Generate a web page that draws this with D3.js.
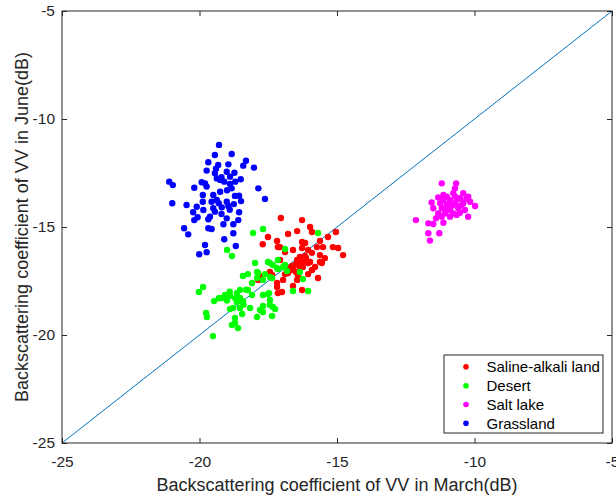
<!DOCTYPE html>
<html>
<head>
<meta charset="utf-8">
<script src="https://cdn.jsdelivr.net/npm/d3@7"></script>
<style>
  html, body { margin: 0; padding: 0; background: #fff; }
  svg { display: block; font-family: Arial, "Liberation Sans", sans-serif; }
</style>
</head>
<body>
<svg id="chart" width="616" height="497"></svg>
<script>
// ---------------- data ----------------
const xTicks = [-25, -20, -15, -10, -5];
const yTicks = [-25, -20, -15, -10, -5];
const xTickLabels = ["-25", "-20", "-15", "-10", "-5"];
const yTickLabels = ["-25", "-20", "-15", "-10", "-5"];
const seriesNames = ["Saline-alkali land", "Desert", "Salt lake", "Grassland"];
const seriesColors = ["#ff0000", "#00ff00", "#ff00ff", "#0000ff"];

const salineAlkali = [
  [-17.04,-14.58],[-16.27,-14.68],[-17.51,-15.46],[-16.78,-15.32],[-16.45,-15.19],[-15.98,-15.00],
  [-15.91,-15.23],[-15.04,-15.23],[-15.33,-15.46],[-17.18,-15.65],[-16.27,-15.69],[-16.16,-15.74],
  [-15.62,-15.65],[-17.07,-15.93],[-16.60,-16.06],[-16.27,-15.97],[-16.05,-16.06],[-15.73,-15.93],
  [-15.51,-15.93],[-15.15,-15.93],[-14.96,-15.97],[-15.91,-16.20],[-15.62,-16.30],[-15.44,-16.44],
  [-14.78,-16.30],[-16.35,-16.39],[-16.45,-16.53],[-16.24,-16.62],[-16.05,-16.67],[-16.53,-16.76],
  [-16.35,-16.85],[-16.71,-16.99],[-15.98,-16.62],[-15.62,-16.62],[-15.55,-16.67],[-15.80,-16.85],
  [-15.91,-16.99],[-16.24,-16.85],[-16.60,-16.99],[-16.78,-17.13],[-16.89,-17.18],[-16.96,-17.45],
  [-16.42,-17.22],[-16.05,-17.18],[-15.69,-17.36],[-17.36,-17.22],[-17.80,-17.27],[-17.87,-17.45],
  [-17.18,-17.59],[-16.45,-17.45],[-16.60,-17.73],[-17.00,-18.01],[-16.27,-17.92],[-16.89,-16.16],
  [-17.15,-15.93],[-17.07,-16.53],[-17.44,-17.08],[-17.18,-17.78],[-17.15,-18.06],[-16.16,-16.34],
  [-16.42,-16.62],[-16.13,-16.44],[-16.64,-16.81],[-16.78,-16.90],[-16.49,-17.08],[-16.35,-16.67],
  [-17.7,-15.8]
];

const desert = [
  [-18.05,-15.28],[-19.00,-16.06],[-18.82,-16.34],[-17.98,-16.67],[-17.44,-16.67],[-17.33,-16.76],
  [-18.42,-17.27],[-18.24,-17.18],[-17.87,-17.13],[-17.91,-17.36],[-18.09,-17.59],[-17.15,-16.94],
  [-16.96,-16.85],[-17.44,-17.31],[-19.87,-17.78],[-20.02,-18.01],[-19.07,-18.15],[-19.18,-18.29],
  [-18.89,-18.19],[-18.64,-18.06],[-18.53,-17.92],[-18.24,-17.92],[-18.09,-18.15],[-18.53,-18.29],
  [-18.64,-18.47],[-18.42,-18.43],[-19.47,-18.43],[-18.78,-18.75],[-18.89,-18.80],[-18.53,-18.75],
  [-18.16,-18.75],[-17.47,-18.06],[-17.44,-18.38],[-17.44,-18.61],[-17.25,-18.80],[-17.80,-18.84],
  [-19.76,-18.98],[-19.73,-19.17],[-18.45,-19.03],[-18.71,-19.21],[-17.91,-19.17],[-17.69,-18.94],
  [-17.36,-19.12],[-18.71,-19.44],[-18.60,-19.68],[-18.82,-19.54],[-19.51,-20.05],[-17.69,-15.09],
  [-15.69,-15.28],[-16.89,-16.02],[-17.51,-16.62],[-17.15,-16.53],[-17.18,-16.90],[-16.89,-16.76],
  [-16.82,-17.04],[-17.91,-17.08],[-17.62,-17.18],[-16.35,-17.08],[-17.69,-17.45],[-17.36,-17.36],
  [-16.24,-17.41],[-16.60,-17.96],[-16.05,-17.96],[-17.69,-18.15],[-17.51,-18.10],[-17.33,-18.70],
  [-17.69,-18.66],[-18.9,-18.0],[-18.7,-18.3],[-19.3,-18.3],[-18.4,-18.6],[-18.3,-17.9],[-19.0,-18.4]
];

const saltLake = [
  [-11.19,-12.98],[-10.67,-12.98],[-10.71,-13.21],[-10.41,-13.44],[-10.23,-13.60],[-10.77,-13.44],
  [-11.01,-13.60],[-11.32,-13.63],[-11.13,-13.75],[-10.89,-13.75],[-10.53,-13.67],[-11.56,-13.86],
  [-11.25,-13.90],[-11.01,-13.98],[-10.71,-13.90],[-10.41,-13.90],[-10.16,-13.83],[-9.98,-14.03],
  [-11.50,-14.13],[-11.19,-14.13],[-10.89,-14.21],[-10.59,-14.13],[-10.35,-14.21],[-11.32,-14.37],
  [-11.07,-14.37],[-10.77,-14.37],[-10.53,-14.34],[-10.23,-14.52],[-10.89,-14.52],[-11.19,-14.52],
  [-12.13,-14.68],[-11.68,-14.83],[-11.50,-14.86],[-11.13,-14.80],[-11.68,-15.29],[-11.28,-15.29],
  [-11.62,-15.63],[-10.65,-14.44],[-11.13,-13.52],[-10.9,-13.9],[-10.6,-13.7],[-10.8,-14.0],
  [-11.0,-14.2],[-10.5,-14.0],[-10.7,-13.6],[-11.4,-14.6],[-10.3,-13.7]
];

const grassland = [
  [-19.29,-11.20],[-19.44,-11.67],[-18.83,-11.62],[-19.68,-12.00],[-19.32,-12.13],[-18.95,-12.10],
  [-18.31,-11.93],[-18.41,-12.16],[-18.02,-12.25],[-19.74,-12.39],[-19.44,-12.51],[-19.01,-12.44],
  [-18.73,-12.49],[-18.89,-12.67],[-19.37,-12.75],[-19.25,-12.82],[-18.50,-12.79],[-21.10,-12.90],
  [-20.97,-13.06],[-19.92,-12.93],[-19.80,-12.98],[-18.89,-13.01],[-18.83,-13.21],[-20.19,-13.18],
  [-19.74,-13.13],[-19.25,-13.37],[-19.50,-13.52],[-19.88,-13.52],[-18.71,-13.56],[-18.56,-13.55],
  [-17.86,-13.21],[-20.10,-14.06],[-20.47,-13.98],[-20.99,-13.90],[-19.88,-13.83],[-19.56,-13.83],
  [-19.37,-13.75],[-19.01,-13.83],[-18.75,-13.94],[-18.49,-13.80],[-19.19,-14.09],[-19.50,-14.13],
  [-19.86,-14.21],[-20.23,-14.32],[-18.56,-14.32],[-18.95,-14.03],[-19.44,-14.29],[-20.07,-14.55],
  [-19.62,-14.52],[-19.01,-14.60],[-18.59,-14.68],[-20.19,-14.68],[-19.68,-14.64],[-19.13,-14.87],
  [-18.77,-14.87],[-20.56,-15.06],[-19.68,-15.06],[-19.56,-15.09],[-20.41,-15.34],[-18.77,-15.29],
  [-19.10,-15.57],[-19.80,-15.83],[-18.68,-15.88],[-20.01,-16.26],[-19.74,-16.17],[-17.62,-13.70],
  [-19.2,-12.7],[-19.1,-12.9],[-19.0,-13.3],[-19.3,-13.9],[-19.2,-14.4],[-18.9,-14.2],[-19.4,-12.3],[-18.7,-12.9]
];

const allSeries = [salineAlkali, desert, saltLake, grassland];
const diagonal = [[-25, -25], [-5, -5]];

// ---------------- layout ----------------
const W = 616, H = 497;
const plot = { left: 62, right: 612, top: 11, bottom: 443 };
const textColor = "#262626";

const svg = d3.select("#chart");
svg.append("rect").attr("width", W).attr("height", H).attr("fill", "#fff");

const x = d3.scaleLinear().domain([-25, -5]).range([plot.left, plot.right]);
const y = d3.scaleLinear().domain([-25, -5]).range([plot.bottom, plot.top]);

// diagonal line
svg.append("path")
  .datum(diagonal)
  .attr("d", d3.line().x(d => x(d[0])).y(d => y(d[1])))
  .attr("fill", "none")
  .attr("stroke", "#0072bd")
  .attr("stroke-width", 1);

// points
const gPts = svg.append("g");
allSeries.forEach((s, i) => {
  gPts.append("g").selectAll("circle").data(s).join("circle")
    .attr("cx", d => x(d[0]))
    .attr("cy", d => y(d[1]))
    .attr("r", 3.2)
    .attr("fill", seriesColors[i]);
});

// box
svg.append("rect")
  .attr("x", plot.left).attr("y", plot.top)
  .attr("width", plot.right - plot.left).attr("height", plot.bottom - plot.top)
  .attr("fill", "none").attr("stroke", textColor).attr("stroke-width", 1);

function styleAxis(g) {
  g.select(".domain").remove();
  g.selectAll("line").attr("stroke", textColor);
  g.selectAll("text").attr("fill", textColor).style("font-size", "15.5px")
    .style("font-family", "Arial, 'Liberation Sans', sans-serif");
}

svg.append("g").attr("transform", `translate(0,${plot.bottom})`)
  .call(d3.axisBottom(x).tickValues(xTicks).tickSizeInner(-5).tickSizeOuter(0).tickPadding(13)
    .tickFormat((d, i) => xTickLabels[i]))
  .call(styleAxis);
svg.append("g").attr("transform", `translate(${plot.left},0)`)
  .call(d3.axisLeft(y).tickValues(yTicks).tickSizeInner(-5).tickSizeOuter(0).tickPadding(7)
    .tickFormat((d, i) => yTickLabels[i]))
  .call(styleAxis);
svg.append("g").attr("transform", `translate(0,${plot.top})`)
  .call(d3.axisTop(x).tickValues(xTicks).tickSizeInner(-5).tickSizeOuter(0).tickFormat(""))
  .call(styleAxis);
svg.append("g").attr("transform", `translate(${plot.right},0)`)
  .call(d3.axisRight(y).tickValues(yTicks).tickSizeInner(-5).tickSizeOuter(0).tickFormat(""))
  .call(styleAxis);

// axis titles
svg.append("text")
  .attr("x", (plot.left + plot.right) / 2).attr("y", 491)
  .attr("text-anchor", "middle").attr("fill", textColor)
  .style("font-size", "18px")
  .text("Backscattering coefficient of VV in March(dB)");
svg.append("text")
  .attr("transform", `translate(28,${(plot.top + plot.bottom) / 2}) rotate(-90)`)
  .attr("text-anchor", "middle").attr("fill", textColor)
  .style("font-size", "18px")
  .text("Backscattering coefficient of VV in June(dB)");

// legend
const leg = svg.append("g");
leg.append("rect")
  .attr("x", 444).attr("y", 355).attr("width", 159).attr("height", 78)
  .attr("fill", "#fff").attr("stroke", textColor).attr("stroke-width", 1);
const rowY = [366.7, 385.7, 404.5, 423.3];
seriesNames.forEach((name, i) => {
  leg.append("circle").attr("cx", 466).attr("cy", rowY[i]).attr("r", 2.8).attr("fill", seriesColors[i]);
  leg.append("text").attr("x", 486.5).attr("y", rowY[i]).attr("dy", "0.35em")
    .attr("fill", "#000").style("font-size", "15px").text(name);
});
</script>
</body>
</html>
